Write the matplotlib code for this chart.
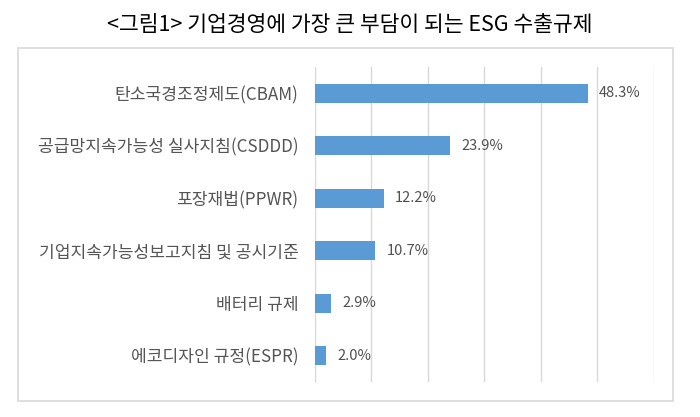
import matplotlib
matplotlib.use('Agg')
import matplotlib.pyplot as plt
from matplotlib.patches import Rectangle

plt.rcParams['font.family'] = ['Noto Sans CJK KR', 'DejaVu Sans']

labels = ['탄소국경조정제도(CBAM)', '공급망지속가능성 실사지침(CSDDD)', '포장재법(PPWR)',
          '기업지속가능성보고지침 및 공시기준', '배터리 규제', '에코디자인 규정(ESPR)']
values = [48.3, 23.9, 12.2, 10.7, 2.9, 2.0]
title = '<그림1> 기업경영에 가장 큰 부담이 되는 ESG 수출규제'

fig = plt.figure(figsize=(7, 4.17), dpi=100)
ax = fig.add_axes([0.45, 0.084, 0.484, 0.755])

# outer frame
fig.patches.append(Rectangle((0.0257, 0.038), 0.936, 0.847, transform=fig.transFigure,
                             fill=False, edgecolor='#d9d9d9', linewidth=1.2))

y = list(range(len(labels)))
ax.barh(y, values, height=0.36, color='#5b9bd5', zorder=3)
for yi, v in zip(y, values):
    ax.annotate('%.1f%%' % v, (v, yi), xytext=(8, 0), textcoords='offset points',
                va='center', ha='left', fontsize=10.5, color='#505050')

ax.set_xlim(0, 60)
ax.set_ylim(5.5, -0.5)
ax.set_xticks(range(0, 61, 10))
ax.xaxis.grid(True, color='#d9d9d9', linewidth=1)
ax.set_axisbelow(True)
ax.tick_params(axis='x', length=0, labelbottom=False)
ax.tick_params(axis='y', length=0, pad=12, labelsize=12.3, labelcolor='#555555')
ax.set_yticks(y)
ax.set_yticklabels(labels)
for s in ['top', 'right', 'bottom']:
    ax.spines[s].set_visible(False)
ax.spines['left'].set_color('#d9d9d9')

fig.text(0.5, 0.94, title, ha='center', va='center', fontsize=15.5, color='black')

fig.savefig('out.png', dpi=100)
